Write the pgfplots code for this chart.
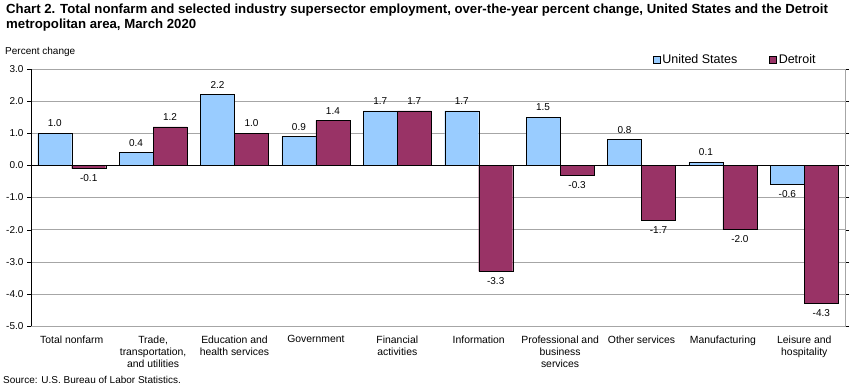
\documentclass[border=0pt]{standalone}
\usepackage{pgfplots}
\pgfplotsset{compat=1.18}
\usepackage{fontspec}
\setmainfont{Liberation Sans}
\definecolor{usblue}{HTML}{99CCFF}
\definecolor{detroit}{HTML}{993366}
\begin{document}
\begin{tikzpicture}
\path (0pt,0pt) rectangle (861pt,390pt);
\node[anchor=north west, inner sep=0pt, align=left, font=\bfseries\fontsize{13.2}{15}\selectfont] at (6pt,386pt)
{Chart 2. Total nonfarm and selected industry supersector employment, over-the-year percent change, United States and the Detroit\\metropolitan area, March 2020};
\node[anchor=west, inner sep=0pt, font=\fontsize{10}{12}\selectfont] at (5pt,338pt) {Percent change};
\node[anchor=west, inner sep=0pt, font=\fontsize{10}{12}\selectfont] at (3pt,10pt) {Source: U.S. Bureau of Labor Statistics.};
\begin{axis}[
  at={(31pt,64pt)}, anchor=south west,
  scale only axis, width=814pt, height=257pt,
  xmin=-0.5, xmax=9.5, ymin=-5, ymax=3,
  ybar=0pt, bar width=34pt,
  ytick={-5,-4,...,3},
  yticklabel style={/pgf/number format/fixed, /pgf/number format/fixed zerofill, /pgf/number format/precision=1},
  /pgf/number format/assume math mode=true,
  ticklabel style={font=\fontsize{10}{12}\selectfont},
  xtick={0,...,9},
  xticklabels={Total nonfarm,{Trade,\\transportation,\\and utilities},{Education and\\health services},Government,{Financial\\activities},Information,{Professional and\\business\\services},Other services,Manufacturing,{Leisure and\\hospitality}},
  xticklabel style={align=center, font=\fontsize{10.4}{12}\selectfont, yshift=-2pt},
  major x tick style={draw=none},
  y tick style={black},
  tick align=outside, major tick length=4pt,
  ymajorgrids, grid style={gray!70},
  axis line style={gray!70},
  nodes near coords,
  nodes near coords style={font=\fontsize{10}{12}\selectfont, /pgf/number format/fixed, /pgf/number format/fixed zerofill, /pgf/number format/precision=1, inner sep=6pt},
  legend style={at={(0.969,1)}, anchor=south east, draw=none, fill=none, legend columns=2, font=\fontsize{12.5}{14}\selectfont, inner sep=2pt, /tikz/every even column/.append style={column sep=30pt}},
  legend image code/.code={\draw[#1,draw=black] (0pt,-3.5pt) rectangle (7pt,3.5pt);},
  legend cell align=left,
  every legend entry/.append style={inner xsep=1pt},
]
\addplot[fill=usblue, draw=black] coordinates {(0,1.0) (1,0.4) (2,2.2) (3,0.9) (4,1.7) (5,1.7) (6,1.5) (7,0.8) (8,0.1) (9,-0.6)};
\addplot[fill=detroit, draw=black] coordinates {(0,-0.1) (1,1.2) (2,1.0) (3,1.4) (4,1.7) (5,-3.3) (6,-0.3) (7,-1.7) (8,-2.0) (9,-4.3)};
\legend{United States,Detroit}
\draw[black] (rel axis cs:0,0) -- (rel axis cs:0,1);
\draw[black] (axis cs:-0.5,0) -- (axis cs:9.5,0);
\end{axis}
\end{tikzpicture}
\end{document}
